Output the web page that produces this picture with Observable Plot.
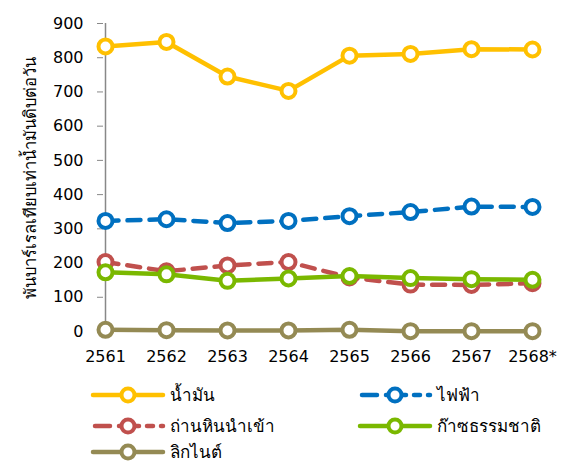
<!DOCTYPE html>
<html>
<head>
<meta charset="utf-8">
<script src="https://cdn.jsdelivr.net/npm/d3@7"></script>
<script src="https://cdn.jsdelivr.net/npm/@observablehq/plot@0.6"></script>
<style>
  html, body { margin: 0; padding: 0; background: #fff; }
  body { width: 566px; height: 463px; overflow: hidden; font-family: "DejaVu Sans", Tahoma, sans-serif; }
  #chart, #legend { display: block; line-height: 0; }
</style>
</head>
<body>
<div id="chart"></div>
<div id="legend"></div>
<script>
const years = ["2561", "2562", "2563", "2564", "2565", "2566", "2567", "2568*"];
const seriesNames = ["น้ำมัน", "ไฟฟ้า", "ถ่านหินนำเข้า", "ก๊าซธรรมชาติ", "ลิกไนต์"];
const oil = [833, 846, 745, 703, 806, 811, 825, 824];
const electricity = [323, 328, 317, 323, 337, 349, 365, 364];
const importedCoal = [203, 176, 193, 203, 158, 137, 136, 141];
const naturalGas = [173, 167, 148, 155, 162, 156, 153, 151];
const lignite = [5, 4, 3, 3, 5, 1, 1, 1];
const yTicks = [0, 100, 200, 300, 400, 500, 600, 700, 800, 900];
const yLabel = "พันบาร์เรลเทียบเท่าน้ำมันดิบต่อวัน";

const colors = ["#FFC000", "#0070C0", "#C0504D", "#7AB800", "#948A54"];
const dashes = [null, "13,9", "13,9", null, null];
const allValues = [oil, electricity, importedCoal, naturalGas, lignite];

const data = [];
seriesNames.forEach((s, i) => {
  years.forEach((y, j) => data.push({series: s, year: y, value: allValues[i][j]}));
});

const marks = [];
seriesNames.forEach((s, i) => {
  const d = data.filter(r => r.series === s);
  marks.push(Plot.line(d, {
    x: "year", y: "value", stroke: colors[i], strokeWidth: 4.5,
    strokeDasharray: dashes[i] || undefined, strokeLinecap: dashes[i] ? "round" : "butt",
    strokeLinejoin: "round"
  }));
  marks.push(Plot.dot(d, {
    x: "year", y: "value", r: 7, stroke: colors[i], strokeWidth: 4, fill: "white"
  }));
});

const chart = Plot.plot({
  width: 566,
  height: 375,
  marginLeft: 103,
  marginRight: 33,
  marginTop: 23,
  marginBottom: 44,
  style: {fontFamily: "'DejaVu Sans', Tahoma, sans-serif", fontSize: "16px", color: "#000", background: "white"},
  x: {type: "point", domain: years, padding: 0, label: null},
  y: {domain: [0, 900], label: null},
  marks: [
    Plot.ruleX([years[0]], {y1: 0, y2: 900, stroke: "#888", strokeWidth: 1.5}),
    Plot.axisY({ticks: yTicks, tickSize: 6, tickPadding: 14, stroke: "#888", fill: "#000", fontSize: 16, label: null}),
    Plot.axisX({tickSize: 0, tickPadding: 19, fill: "#000", fontSize: 16, label: null}),
    Plot.text([yLabel], {frameAnchor: "left", dx: -73, rotate: -90, textAnchor: "middle", fontSize: 16.5, fill: "#000", text: d => d}),
    ...marks
  ]
});
document.getElementById("chart").appendChild(chart);

// Legend (SVG with real text)
const lg = d3.create("svg").attr("width", 566).attr("height", 88)
  .style("font-family", "'DejaVu Sans', Tahoma, sans-serif").style("font-size", "17px");
const pos = [[93, 20], [360, 20], [93, 51], [360, 51], [93, 77]];
seriesNames.forEach((s, i) => {
  const g = lg.append("g").attr("transform", `translate(${pos[i][0]},${pos[i][1]})`);
  const segs = dashes[i] ? [[2, 17], [26, 46], [54, 60], [68, 70]] : [[0, 70]];
  segs.forEach(([a, b]) => g.append("line").attr("x1", a).attr("x2", b).attr("y1", 0).attr("y2", 0)
    .attr("stroke", colors[i]).attr("stroke-width", 4.5).attr("stroke-linecap", "round"));
  g.append("circle").attr("cx", 35).attr("cy", 0).attr("r", 6.5)
    .attr("stroke", colors[i]).attr("stroke-width", 4).attr("fill", "white");
  g.append("text").attr("x", 77).attr("y", 0).attr("dy", "0.35em").attr("fill", "#000").text(s);
});
document.getElementById("legend").appendChild(lg.node());
</script>
</body>
</html>
